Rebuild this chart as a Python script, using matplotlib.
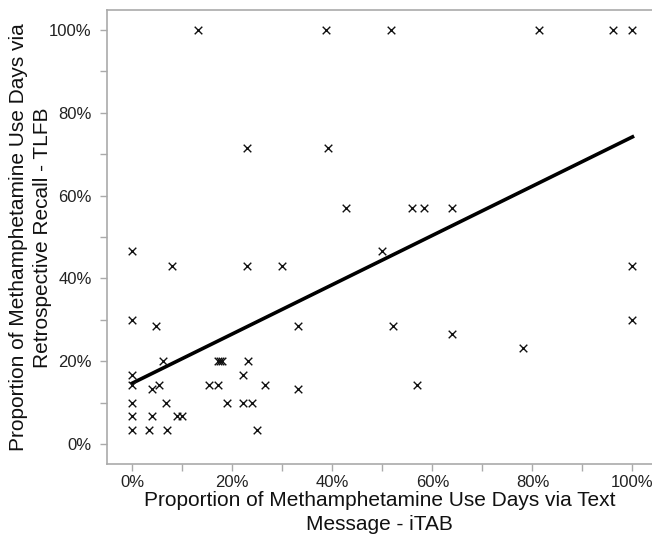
import matplotlib
matplotlib.use("Agg")
import matplotlib.pyplot as plt
from matplotlib.ticker import MultipleLocator, PercentFormatter

plt.rcParams['font.family'] = ['Liberation Sans', 'DejaVu Sans']

# iTAB (text message) vs TLFB (retrospective recall), in %
itab = [13.2, 38.7, 51.7, 81.3, 96.1, 100,
        23.0, 39.2,
        42.7, 55.9, 58.4, 63.9,
        0, 49.9,
        7.9, 23.0, 29.9, 100,
        0, 100,
        4.7, 33.1, 52.1,
        63.9, 78.1,
        6.2, 17.2, 17.6, 18.0, 23.1,
        0, 22.1,
        0, 5.3, 15.3, 17.1, 26.5, 56.9,
        4.0, 33.1,
        0, 6.7, 18.9, 22.1, 24.0,
        0, 4.0, 9.0, 9.9,
        0, 3.3, 6.9, 24.9]
tlfb = [100, 100, 100, 100, 100, 100,
        71.4, 71.4,
        57.1, 57.1, 57.1, 57.1,
        46.7, 46.7,
        42.9, 42.9, 42.9, 42.9,
        30.0, 30.0,
        28.6, 28.6, 28.6,
        26.7, 23.3,
        20.0, 20.0, 20.0, 20.0, 20.0,
        16.7, 16.7,
        14.3, 14.3, 14.3, 14.3, 14.3, 14.3,
        13.3, 13.3,
        10.0, 10.0, 10.0, 10.0, 10.0,
        6.7, 6.7, 6.7, 6.7,
        3.3, 3.3, 3.3, 3.3]

# fitted line end points
fit_x = [0, 100]
fit_y = [14.7, 74.2]

fig = plt.figure(figsize=(6.52, 5.35), dpi=100)
ax = fig.add_axes([0.164, 0.132, 0.836, 0.849])

ax.scatter(itab, tlfb, marker="x", s=30, c="#111111", linewidths=1.0, zorder=3)
ax.plot(fit_x, fit_y, color="black", linewidth=2.6, zorder=2)

ax.set_xlim(-5.06, 103.9)
ax.set_ylim(-4.9, 104.8)

for side in ["left", "bottom", "top"]:
    ax.spines[side].set_color("#aaaaaa")
    ax.spines[side].set_linewidth(1.2)
ax.spines["right"].set_visible(False)

ax.xaxis.set_major_locator(MultipleLocator(20))
ax.xaxis.set_minor_locator(MultipleLocator(10))
ax.yaxis.set_major_locator(MultipleLocator(20))
ax.yaxis.set_minor_locator(MultipleLocator(10))
ax.xaxis.set_major_formatter(PercentFormatter(decimals=0))
ax.yaxis.set_major_formatter(PercentFormatter(decimals=0))
ax.tick_params(axis="both", which="both", direction="out", color="#aaaaaa",
               length=5, width=1, labelsize=12, labelcolor="#222222")
ax.tick_params(axis="x", which="major", pad=3)
ax.tick_params(axis="y", which="major", pad=6)

ax.set_xlabel("Proportion of Methamphetamine Use Days via Text\nMessage - iTAB",
              fontsize=15, color="#111111", linespacing=1.35)
ax.set_ylabel("Proportion of Methamphetamine Use Days via\nRetrospective Recall - TLFB",
              fontsize=15, color="#111111", linespacing=1.35)
ax.xaxis.set_label_coords(0.5, -0.058)
ax.yaxis.set_label_coords(-0.101, 0.5)

plt.savefig("out.png", dpi=100)
